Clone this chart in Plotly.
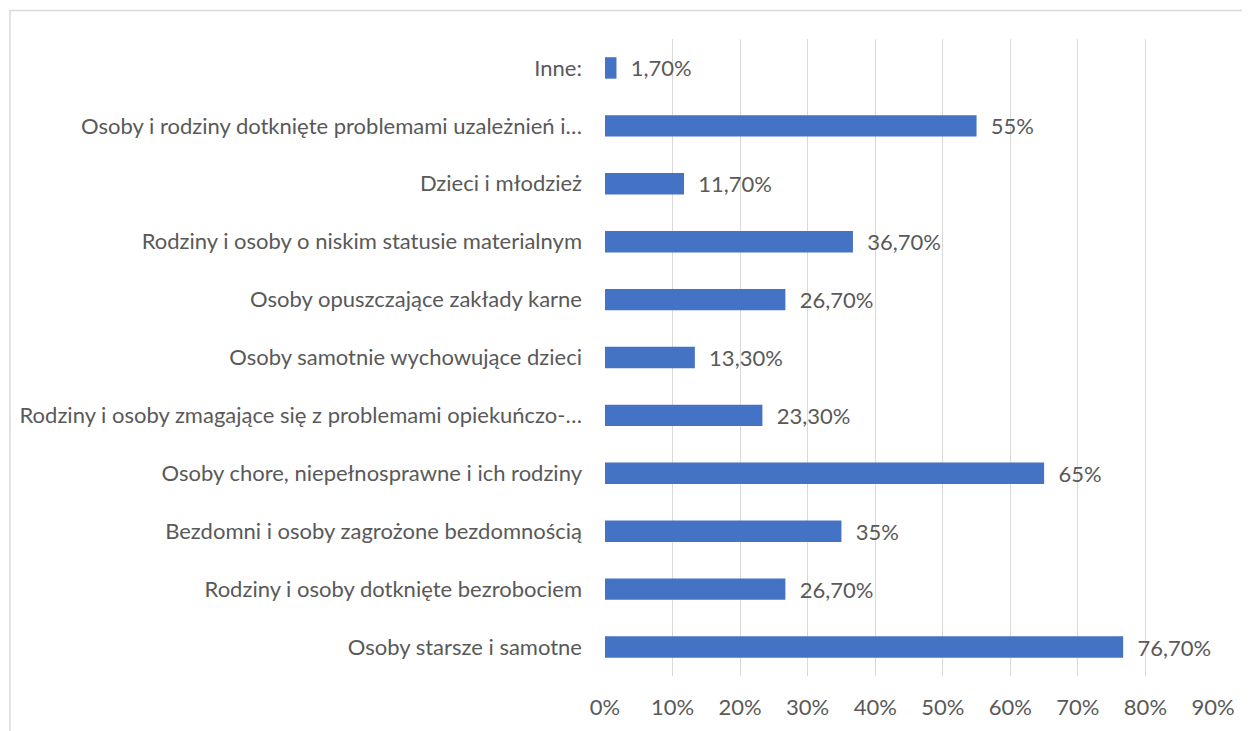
import plotly.graph_objects as go

categories = [
    "Osoby starsze i samotne",
    "Rodziny i osoby dotknięte bezrobociem",
    "Bezdomni i osoby zagrożone bezdomnością",
    "Osoby chore, niepełnosprawne i ich rodziny",
    "Rodziny i osoby zmagające się z problemami opiekuńczo-…",
    "Osoby samotnie wychowujące dzieci",
    "Osoby opuszczające zakłady karne",
    "Rodziny i osoby o niskim statusie materialnym",
    "Dzieci i młodzież",
    "Osoby i rodziny dotknięte problemami uzależnień i…",
    "Inne:",
]
values = [76.7, 26.7, 35, 65, 23.3, 13.3, 26.7, 36.7, 11.7, 55, 1.7]
value_labels = ["76,70%", "26,70%", "35%", "65%", "23,30%", "13,30%",
                "26,70%", "36,70%", "11,70%", "55%", "1,70%"]
x_ticks = [0, 10, 20, 30, 40, 50, 60, 70, 80, 90]
x_tick_labels = [f"{t}%" for t in x_ticks]

# page has an 8px body margin
W, H = 1242, 723
L, R, T, B = 597, 37, 30.5, 55
FONT = "Lato"
FS = 22
TXT = "#595959"

fig = go.Figure(go.Bar(
    y=categories, x=values, orientation="h",
    marker=dict(color="#4472C4", line=dict(width=0)),
    text=["\u00a0\u00a0" + s for s in value_labels],
    textposition="outside", cliponaxis=False, constraintext="none",
    textfont=dict(family=FONT, size=FS, color=TXT),
    width=0.37,
))

pw = W - L - R
ph = H - T - B
def px_x(p):
    return (p - L) / pw
def px_y(p):
    return (H - B - p) / ph

fig.update_layout(
    width=W, height=H,
    margin=dict(l=L, r=R, t=T, b=B),
    plot_bgcolor="white", paper_bgcolor="white",
    showlegend=False,
    font=dict(family=FONT, size=FS, color=TXT),
    xaxis=dict(range=[0, 90], tickvals=x_ticks, ticktext=x_tick_labels,
               showgrid=True, gridcolor="#d9d9d9", gridwidth=1,
               zeroline=False, showline=False, ticks="",
               ticklabelstandoff=16,
               tickfont=dict(family=FONT, size=FS, color=TXT)),
    yaxis=dict(showgrid=False, zeroline=False, showline=False, ticks="",
               ticklabelstandoff=22,
               tickfont=dict(family=FONT, size=FS, color=TXT)),
    shapes=[dict(type="rect", xref="paper", yref="paper",
                 x0=px_x(2), x1=px_x(1262), y0=px_y(740), y1=px_y(2),
                 line=dict(color="#d9d9d9", width=1.5), fillcolor="rgba(0,0,0,0)",
                 layer="below")],
)

fig.write_html("out.html")
